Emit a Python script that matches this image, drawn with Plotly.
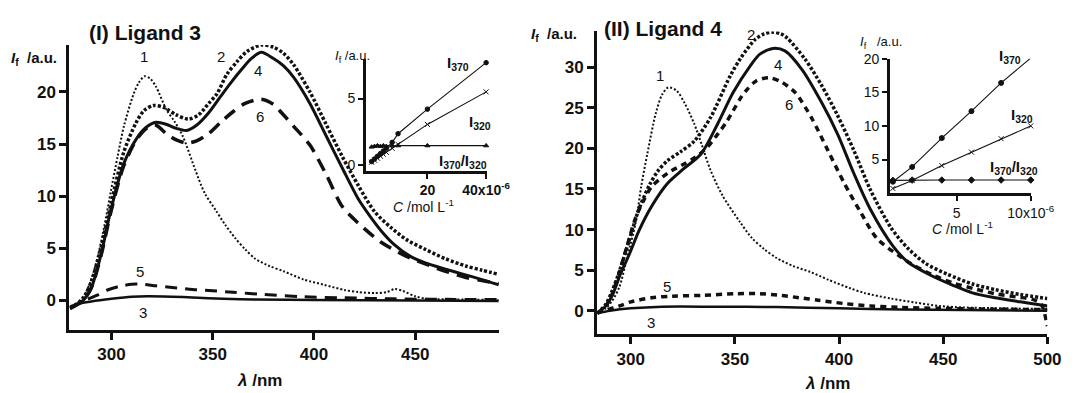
import plotly.graph_objects as go

W, H = 1088, 393

# ---------------- Ligand 3 (panel I) ----------------
L3_c1_wl = [279.5,283,286.8,290,293.3,296.5,299.7,303,306.1,310.9,313.5,316.3,319,322,327.1,331,335.1,341.6,346,351.3,356,361,366,371,378,385,395,405,415,422,430,436,440,444,450,456,470,491.3]
L3_c1_I = [-0.8,-0.3,0.6,2.0,4.3,7.2,10.5,13.8,16.7,19.8,20.9,21.5,21.3,20.5,18.3,17.2,15.8,12.4,10.3,8.7,7.3,6.0,4.9,4.0,3.3,2.8,2.0,1.5,1.0,0.8,0.7,0.8,1.1,0.9,0.4,0.15,0.1,0.05]
L3_c2_wl = [279.5,283,286,290,295,300,306,312,316,320.7,326,332,338,343,348,352,357,362,367,374,380,385,390,398,406,414,422,430,438,446,455,465,475,483,491.3]
L3_c2_I = [-0.7,-0.3,0.2,1.8,5.2,9.5,14.2,17.0,18.2,18.7,18.5,17.8,17.4,17.8,18.9,19.8,21.7,22.9,23.9,24.5,24.3,23.7,22.6,20.0,16.9,13.8,11.0,8.5,7.0,5.8,4.9,4.0,3.3,2.9,2.5]
L3_c4_wl = [279.5,283,286,290,294.8,299.7,306,312.6,317,322,327,332,337,342,348,354,359,364,369,374,380,385,390,398,406,414,422,428,434,440,447,455,465,474,483,491.3]
L3_c4_I = [-0.7,-0.4,0.0,1.2,4.4,8.7,13.1,15.6,16.6,17.1,16.9,16.5,16.3,16.8,18.0,19.6,20.9,22.1,23.2,23.8,23.2,22.5,21.4,18.9,15.8,12.7,9.7,8.0,6.5,5.3,4.3,3.6,3.0,2.5,2.0,1.5]
L3_c6_wl = [279.5,283,286,290,294.8,299.7,306,312.6,318,322,327,332,337,342,348,354,360,366,374,380,384,390,398,406,414,422,433,445,455,465,475,483,491.3]
L3_c6_I = [-0.8,-0.4,0.0,1.2,4.3,8.5,12.9,15.5,16.6,16.8,16.0,15.4,15.1,15.3,16.0,17.1,18.1,18.9,19.3,18.8,18.0,16.7,14.9,12.1,9.0,7.4,5.6,4.3,3.5,2.8,2.2,1.9,1.6]
L3_c5_wl = [279.5,284,288,293,298,304,310,315,322,330,340,350,360,375,395,415,440,465,491.3]
L3_c5_I = [-0.7,-0.3,0.1,0.5,1.0,1.35,1.55,1.55,1.4,1.25,1.05,0.93,0.78,0.58,0.35,0.25,0.15,0.1,0.1]
L3_c3_wl = [279.5,284,290,300,310,318,330,340,355,370,400,450,491.3]
L3_c3_I = [-0.6,-0.3,-0.1,0.15,0.35,0.4,0.35,0.28,0.15,0.08,0.05,0.0,-0.05]

# inset (I)
ins3_C = [1,2,3,4,5,6,8,10,20,40]
ins3_I370 = [0.25,0.45,0.65,0.85,1.05,1.25,1.7,2.35,4.2,7.7]
ins3_I320 = [0.2,0.35,0.5,0.65,0.8,0.95,1.25,1.55,3.05,5.5]
ins3_ratio = [1.35,1.4,1.45,1.4,1.45,1.4,1.45,1.45,1.45,1.45]

# ---------------- Ligand 4 (panel II) ----------------
L4_c1_wl = [284,288,291,294.5,298,302.4,305,308,312,315,318,322,326,330.5,334,338.3,344,352.5,358,364,370,378,386,395,405,412,425,437,448,460,480,500]
L4_c1_I = [-0.3,0.3,1.2,2.9,6.3,10.9,15.3,19.4,24.3,26.6,27.5,27.1,25.5,23.0,20.5,17.3,14.2,10.9,9.0,7.6,6.5,5.5,4.8,3.8,2.8,2.2,1.5,1.0,0.6,0.4,0.3,0.2]
L4_c2_wl = [284,288,291,294.6,299,303.9,309,313,317.7,324,330.5,338.3,347.7,353,359.7,364,368,372,375,383.6,391.5,399,407,415,425,433,441.7,452,464,475,487,500]
L4_c2_I = [-0.3,0.8,2.4,4.9,8.5,12.5,15.5,17.2,18.5,19.6,20.9,23.8,28.9,31.2,33.4,34.1,34.3,34.1,33.6,31.0,27.8,24.2,19.8,14.9,10.2,7.7,5.8,4.5,3.3,2.6,2.0,1.5]
L4_c4_wl = [284,288,291.3,295,299.2,304,310.1,317.7,325,333.7,341.5,349.2,357.2,362,368.2,374,382.2,391.5,399.4,407.1,415,425.8,433,443,455,464,475,487,497,500]
L4_c4_I = [-0.3,0.6,2.0,4.5,6.9,9.9,12.9,15.7,17.4,19.3,22.9,26.9,30.1,31.6,32.3,32.0,29.7,25.7,21.7,16.9,12.5,8.0,6.0,4.5,3.1,2.2,1.6,1.1,0.7,0.6]
L4_c6_wl = [284,288,291,294,297.7,302.4,306,310.1,318,325.8,331,336.6,341,346.1,352.5,356,360.2,366.4,372,378.8,386.9,394.7,402.5,410.4,418.2,429.2,435.2,445,455,465,475,485,493,497,500]
L4_c6_I = [-0.3,0.6,2.0,4.3,7.5,11.5,13.5,15.3,17.0,18.1,18.9,20.1,21.5,23.3,26.1,27.3,28.3,28.7,28.2,26.9,23.7,19.7,15.7,12.1,8.9,6.7,5.7,4.4,3.4,2.7,2.1,1.7,1.4,0.8,-1.9]
L4_c5_wl = [284,288,294.6,300,310,320,335,350,362,372,381,390,402,415,430,448,470,500]
L4_c5_I = [-0.3,0.1,0.6,1.1,1.6,1.8,1.9,2.1,2.1,1.9,1.6,1.3,0.9,0.6,0.4,0.3,0.2,0.15]
L4_c3_wl = [284,290,300,315,340,370,400,430,460,500]
L4_c3_I = [-0.3,0.0,0.3,0.5,0.5,0.45,0.3,0.15,0.1,0.0]

# inset (II)
ins4_C = [0.7,2,4,6,8,10]
ins4_I370 = [1.7,3.9,8.2,12.2,16.4,20.1]
ins4_I320 = [0.7,1.9,4.1,6.1,8.1,10.0]
ins4_ratio = [1.9,1.95,1.95,1.95,1.95,1.95]

# tick labels
main3_xticks = [300, 350, 400, 450]
main3_yticks = [0, 5, 10, 15, 20]
main4_xticks = [300, 350, 400, 450, 500]
main4_yticks = [0, 5, 10, 15, 20, 25, 30]
ins3_xticks = [20, 40]
ins3_xtext = ["20", "40x10<sup>-6</sup>"]
ins3_yticks = [0, 5]
ins4_xticks = [5, 10]
ins4_xtext = ["5", "10x10<sup>-6</sup>"]
ins4_yticks = [5, 10, 15, 20]

FONT = "Liberation Sans, Arial, Helvetica, sans-serif"
K = "#111111"

fig = go.Figure()

def curve(x, y, ax, width, dash):
    fig.add_trace(go.Scatter(x=x, y=y, mode="lines", xaxis="x" + ax, yaxis="y" + ax,
                             line=dict(color=K, width=width, dash=dash, shape="spline", smoothing=0.8),
                             hoverinfo="skip", showlegend=False))

# panel I curves
curve(L3_c1_wl, L3_c1_I, "", 2.0, "2px,2px")
curve(L3_c2_wl, L3_c2_I, "", 3.5, "3px,2px")
curve(L3_c6_wl, L3_c6_I, "", 3.5, "13px,8px")
curve(L3_c4_wl, L3_c4_I, "", 3.0, "solid")
curve(L3_c5_wl, L3_c5_I, "", 3.0, "12px,8px")
curve(L3_c3_wl, L3_c3_I, "", 2.5, "solid")

# panel II curves
curve(L4_c1_wl, L4_c1_I, "3", 2.0, "2px,2px")
curve(L4_c2_wl, L4_c2_I, "3", 3.5, "3px,2px")
curve(L4_c6_wl, L4_c6_I, "3", 3.5, "6px,5px")
curve(L4_c4_wl, L4_c4_I, "3", 3.0, "solid")
curve(L4_c5_wl, L4_c5_I, "3", 3.5, "6px,5px")
curve(L4_c3_wl, L4_c3_I, "3", 2.5, "solid")

def inset_series(x, y, ax, sym, size):
    fig.add_trace(go.Scatter(x=x, y=y, mode="lines+markers", xaxis="x" + ax, yaxis="y" + ax,
                             line=dict(color=K, width=1.1),
                             marker=dict(symbol=sym, size=size, color=K, line=dict(color=K, width=1)),
                             hoverinfo="skip", showlegend=False, cliponaxis=False))

inset_series(ins3_C, ins3_I370, "2", "circle", 4.5)
inset_series(ins3_C, ins3_I320, "2", "x-thin", 5)
inset_series(ins3_C, ins3_ratio, "2", "triangle-up", 4.5)
inset_series(ins4_C, ins4_I370, "4", "circle", 5)
inset_series(ins4_C, ins4_I320, "4", "x-thin", 5)
inset_series(ins4_C, ins4_ratio, "4", "diamond", 5)

def px_x(p):
    return p / W

def px_y(p):
    return 1 - p / H

main_tick = dict(family=FONT, size=17, color=K, weight="bold")
ins_tick = dict(family=FONT, size=14, color=K)

def main_axis(domain, rng, ticks, anchor):
    return dict(domain=domain, range=rng, tickvals=ticks, showgrid=False, zeroline=False,
                showline=True, linecolor=K, linewidth=3, ticks="outside", ticklen=7,
                tickwidth=2.5, tickcolor=K, tickfont=main_tick, anchor=anchor, fixedrange=True)

def ins_axis(domain, rng, ticks, anchor, text=None):
    d = dict(domain=domain, range=rng, tickvals=ticks, showgrid=False, zeroline=False,
             showline=True, linecolor=K, linewidth=2.5, ticks="outside", ticklen=5,
             tickwidth=2, tickcolor=K, tickfont=ins_tick, anchor=anchor, fixedrange=True)
    if text is not None:
        d["ticktext"] = text
    return d

fig.update_layout(
    width=W, height=H, margin=dict(l=0, r=0, t=0, b=0),
    paper_bgcolor="white", plot_bgcolor="rgba(0,0,0,0)",
    xaxis=main_axis([px_x(71), px_x(510)], [279.2, 491.3], main3_xticks, "y"),
    yaxis=main_axis([px_y(330), px_y(38)], [-2.8, 24.5], main3_yticks, "x"),
    xaxis2=ins_axis([px_x(374), px_x(498)], [-1, 40.3], ins3_xticks, "y2", ins3_xtext),
    yaxis2=ins_axis([px_y(167), px_y(52)], [-0.44, 8.0], ins3_yticks, "x2"),
    xaxis3=main_axis([px_x(610.5), px_x(1071)], [283.8, 500], main4_xticks, "y3"),
    yaxis3=main_axis([px_y(335), px_y(24)], [-2.92, 34.4], main4_yticks, "x3"),
    xaxis4=ins_axis([px_x(910), px_x(1054)], [0.5, 10], ins4_xticks, "y4", ins4_xtext),
    yaxis4=ins_axis([px_y(190), px_y(52)], [0, 20], ins4_yticks, "x4"),
)
fig.update_layout(xaxis2=dict(tickfont=dict(weight="bold")))

ann = []

def ptext(text, x, y, size, xanchor="center", bold=False):
    ann.append(dict(text=text, x=px_x(x), y=px_y(y), xref="paper", yref="paper",
                    xanchor=xanchor, yanchor="middle", showarrow=False,
                    font=dict(family=FONT, size=size, color=K, weight="bold" if bold else "normal")))

def dtext(text, x, y, ax, size=15):
    ann.append(dict(text=text, x=x, y=y, xref="x" + ax, yref="y" + ax, showarrow=False,
                    xanchor="center", yanchor="middle",
                    font=dict(family=FONT, size=size, color=K)))

# titles and axis labels
ptext("(I) Ligand 3", 89, 25, 21, "left", True)
ptext("(II) Ligand 4", 616, 21, 21, "left", True)
ptext("<i>I</i><sub>f</sub>  /a.u.", 9, 52, 15, "left", True)
ptext("<i>I</i><sub>f</sub>  /a.u.", 541, 27, 15, "left", True)
ptext("<i>λ</i> /nm", 265, 382, 17, "center", True)
ptext("<i>λ</i> /nm", 846, 385, 17, "center", True)

# inset labels (I)
ptext("<i>I</i><sub>f</sub> /a.u.", 341, 50, 13, "left")
ptext("<i>C</i> /mol L<sup>-1</sup>", 433, 203, 14, "center")
ptext("<b>I<sub>370</sub></b>", 468, 57, 15, "center")
ptext("<b>I<sub>320</sub></b>", 491, 117, 15, "center")
ptext("<b>I<sub>370</sub>/I<sub>320</sub></b>", 473, 157, 15, "center")

# inset labels (II)
ptext("<i>I</i><sub>f</sub>   /a.u.", 877, 35, 13, "left")
ptext("<i>C</i> /mol L<sup>-1</sup>", 984, 226, 14, "center")
ptext("<b>I<sub>370</sub></b>", 1033, 50, 15, "center")
ptext("<b>I<sub>320</sub></b>", 1045, 110, 15, "center")
ptext("<b>I<sub>370</sub>/I<sub>320</sub></b>", 1037, 164, 15, "center")

# curve numbers (I)
dtext("1", 316, 23.4, "")
dtext("2", 354.2, 23.4, "")
dtext("4", 372.5, 22.1, "")
dtext("6", 373.5, 17.6, "")
dtext("5", 314.2, 2.8, "")
dtext("3", 315.5, -1.2, "")

# curve numbers (II)
dtext("1", 314.1, 29.0, "3")
dtext("2", 357.6, 34.0, "3")
dtext("4", 370.9, 30.3, "3")
dtext("6", 375.9, 25.4, "3")
dtext("5", 317.2, 3.0, "3")
dtext("3", 309.9, -1.5, "3")

fig.update_layout(annotations=ann)

fig.write_html("out.html")
